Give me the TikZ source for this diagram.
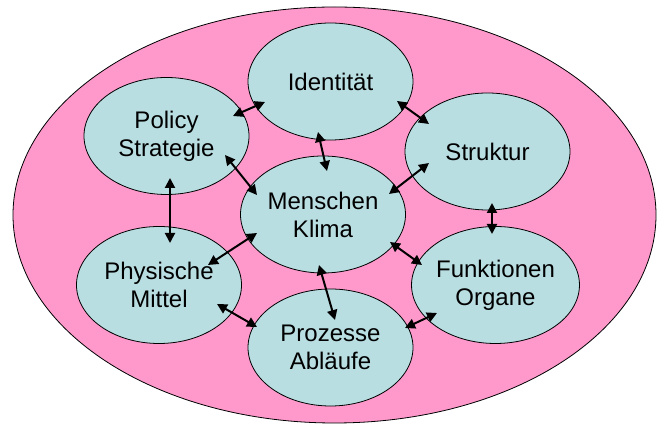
\documentclass[tikz,border=0pt]{standalone}
\usepackage{fontspec}
\setmainfont{Liberation Sans}
\usetikzlibrary{arrows.meta}
\usetikzlibrary{shapes.geometric}
\definecolor{rosa}{RGB}{255,153,204}
\definecolor{hellblau}{RGB}{185,222,226}

\begin{document}
\begin{tikzpicture}[x=0.5pt, y=-0.5pt,
outer/.style={ellipse, draw=black, fill=rosa, thin, minimum width=321.5pt, minimum height=208pt},
node/.style={ellipse, draw=black, fill=hellblau, thin, minimum width=82.5pt, minimum height=58.5pt, inner sep=0pt, align=center, font=\fontsize{12}{14}\selectfont},
link/.style={{Triangle[length=5pt,width=5pt]}-{Triangle[length=5pt,width=5pt]}, line width=1pt},
]
\useasboundingbox (0,0) rectangle (659,426);
\node[outer](org) at (334.5,215) {};
\node[node](ident) at (330.5,81.5) {Identität};
\node[node](policy) at (166.5,136) {Policy\\Strategie};
\node[node](struktur) at (487.5,151.5) {Struktur};
\node[node](menschen) at (323,214.5) {Menschen\\Klima};
\node[node](physisch) at (159,285) {Physische\\Mittel};
\node[node](funktion) at (495.5,285) {Funktionen\\Organe};
\node[node](prozess) at (330.5,347.5) {Prozesse\\Abläufe};
\draw[link] ([shift={(66.5,-20)}]policy.center) -- ([shift={(-65.5,20.5)}]ident.center);
\draw[link] ([shift={(66.5,19.5)}]ident.center) -- ([shift={(-58.5,-27.5)}]struktur.center);
\draw[link] ([shift={(-12.5,50.5)}]ident.center) -- ([shift={(4,-43.5)}]menschen.center);
\draw[link] ([shift={(58.5,19)}]policy.center) -- ([shift={(-66,-19.5)}]menschen.center);
\draw[link] ([shift={(-58.5,11.5)}]struktur.center) -- ([shift={(66,-20.5)}]menschen.center);
\draw[link] ([shift={(3.5,42)}]policy.center) -- ([shift={(11,-42)}]physisch.center);
\draw[link] ([shift={(4.5,51.5)}]struktur.center) -- ([shift={(-3.5,-51)}]funktion.center);
\draw[link] ([shift={(-66,18.5)}]menschen.center) -- ([shift={(49,-20)}]physisch.center);
\draw[link] ([shift={(67,27.5)}]menschen.center) -- ([shift={(-73.5,-20)}]funktion.center);
\draw[link] ([shift={(-4,50.5)}]menschen.center) -- ([shift={(4.5,-27.5)}]prozess.center);
\draw[link] ([shift={(58,19)}]physisch.center) -- ([shift={(-73.5,-20.5)}]prozess.center);
\draw[link] ([shift={(-58.5,28)}]funktion.center) -- ([shift={(74.5,-19.5)}]prozess.center);
\end{tikzpicture}
\end{document}
